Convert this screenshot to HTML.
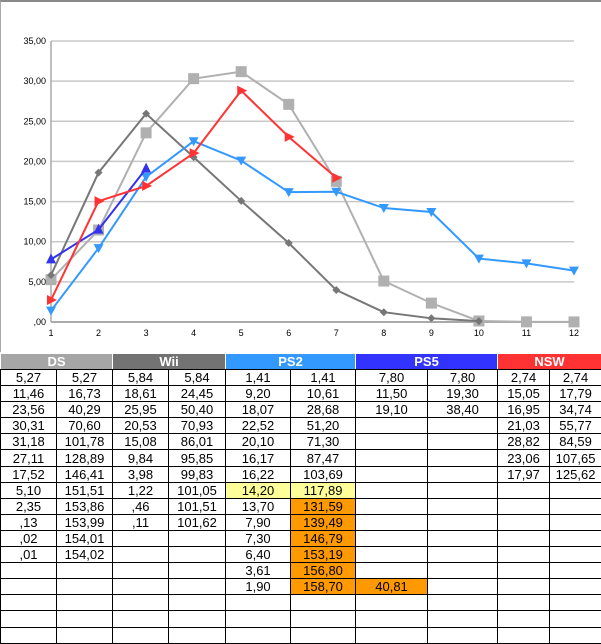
<!DOCTYPE html>
<html><head><meta charset="utf-8"><style>
body{margin:0;width:601px;height:643px;overflow:hidden;background:#fff;font-family:"Liberation Sans",Arial,sans-serif}
#chart{position:absolute;left:0;top:0;width:601px;height:352px;border-top:2px solid #888;border-left:1px solid #aaa;box-sizing:border-box}
table{position:absolute;left:0;top:353px;border-collapse:collapse;table-layout:fixed;width:601px}
td{border:1px solid #000;height:15.1px;padding:0;text-align:center;font-size:13px;line-height:15px;overflow:hidden;white-space:nowrap}
th{height:15px;padding:0;color:#fff;font-size:13px;font-weight:bold;border:1px solid #fff;border-bottom:1px solid #000}
.y{background:#ffff99}.o{background:#ff9900}
</style></head><body>
<div id="chart">
<svg id="svg" width="601" height="352"></svg>
</div>
<table id="tbl">
<colgroup><col style="width:56px"><col style="width:56px"><col style="width:56px"><col style="width:57px"><col style="width:65px"><col style="width:65px"><col style="width:72px"><col style="width:70px"><col style="width:52px"><col style="width:52px"></colgroup>
<thead><tr>
<th colspan="2" style="background:#a6a6a6">DS</th>
<th colspan="2" style="background:#737373">Wii</th>
<th colspan="2" style="background:#3399ff">PS2</th>
<th colspan="2" style="background:#3333ff">PS5</th>
<th colspan="2" style="background:#ff3333">NSW</th>
</tr></thead><tbody id="tb"></tbody></table>
<script>
const categories=[1,2,3,4,5,6,7,8,9,10,11,12];
const yTicks=[0,5,10,15,20,25,30,35];
const dsValues=[5.27,11.46,23.56,30.31,31.18,27.11,17.52,5.10,2.35,0.13,0.02,0.01];
const wiiValues=[5.84,18.61,25.95,20.53,15.08,9.84,3.98,1.22,0.46,0.11];
const ps2Values=[1.41,9.20,18.07,22.52,20.10,16.17,16.22,14.20,13.70,7.90,7.30,6.40,3.61,1.90];
const ps5Values=[7.80,11.50,19.10];
const nswValues=[2.74,15.05,16.95,21.03,28.82,23.06,17.97];
const ps5Extra=40.81;

const NS="http://www.w3.org/2000/svg",svg=document.getElementById('svg');
const X0=50,X1=573,Y0=320,Y1=39;
const xs=i=>X0+(i-1)*(X1-X0)/(categories.length-1);
const ys=v=>Y0-v*(Y0-Y1)/35;
const fmt=v=>{let s=v.toFixed(2).replace('.',',');return s.startsWith('0,')?s.slice(1):s;};
function mk(t,a){const e=document.createElementNS(NS,t);for(const k in a)e.setAttribute(k,a[k]);svg.appendChild(e);return e;}
yTicks.forEach(v=>{
 const l=mk('line',{x1:X0,x2:X1,y1:ys(v),y2:ys(v),stroke:v===0?'#aaa':'#c8c8c8','stroke-width':v===0?2:1.5});
 
 
 const t=mk('text',{x:45,y:ys(v)+3,'font-size':9,'text-anchor':'end',fill:'#000','font-family':'Liberation Sans, sans-serif'});
 t.textContent=v===0?',00':v.toFixed(2).replace('.',',');
 
 
});
const ax=mk('line',{x1:X0,x2:X0,y1:Y1,y2:Y0,stroke:'#aaa','stroke-width':1.5});


categories.forEach(c=>{
 const t=mk('text',{x:xs(c),y:334,'font-size':9,'text-anchor':'middle','font-family':'Liberation Sans, sans-serif'});
 t.textContent=c;
 
 
});
function marker(type,x,y,col){
 let e;
 if(type==='sq')e=mk('rect',{x:x-5.5,y:y-5.5,width:11,height:11,fill:col});
 else if(type==='dia')e=mk('polygon',{points:`${x},${y-4} ${x+4},${y} ${x},${y+4} ${x-4},${y}`,fill:col});
 else if(type==='down')e=mk('polygon',{points:`${x-5},${y-4} ${x+5},${y-4} ${x},${y+5}`,fill:col});
 else if(type==='up')e=mk('polygon',{points:`${x-5},${y+4} ${x+5},${y+4} ${x},${y-6}`,fill:col});
 else e=mk('polygon',{points:`${x-4},${y-5} ${x-4},${y+5} ${x+6},${y}`,fill:col});
 return e;
}
function series(vals,col,type,name){
 const v=vals.slice(0,categories.length);
 const p=mk('polyline',{points:v.map((d,i)=>xs(i+1)+','+ys(d)).join(' '),fill:'none',stroke:col,'stroke-width':2});
 
 
 v.forEach((d,i)=>{const m=marker(type,xs(i+1),ys(d),col);
  
  });
}
series(dsValues,'#b0b0b0','sq','ds');
series(wiiValues,'#777777','dia','wii');
series(ps2Values,'#3399ff','down','ps2');
series(ps5Values,'#3333ee','up','ps5');
series(nswValues,'#ff3333','right','nsw');

const tb=document.getElementById('tb');
const all=[dsValues,wiiValues,ps2Values,ps5Values,nswValues];
const names=['ds','wii','ps2','ps5','nsw'];
const cums=all.map(a=>{let s=0;return a.map(v=>s+=v);});
for(let r=0;r<17;r++){
 const tr=document.createElement('tr');
 tb.appendChild(tr);
 all.forEach((a,k)=>{
  const c1=document.createElement('td'),c2=document.createElement('td');
  
  
  
  
  if(r<a.length){c1.textContent=fmt(a[r]);c2.textContent=fmt(cums[k][r]);}
  if(k===2&&r===7){c1.className='y';c2.className='y';}
  if(k===2&&r>7&&r<a.length){c2.className='o';}
  if(k===3&&r===13){c1.textContent=fmt(ps5Extra);c1.className='o';}
  tr.appendChild(c1);tr.appendChild(c2);
 });
}
</script>
</body></html>
